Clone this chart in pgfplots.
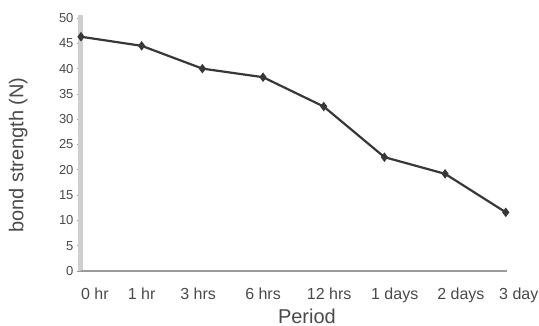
\documentclass[border=0pt]{standalone}
\usepackage{pgfplots}
\pgfplotsset{compat=1.18}
\usepackage{fontspec}
\setmainfont{Liberation Sans}
\definecolor{txt}{HTML}{4A4A4A}
\definecolor{ln}{HTML}{383838}
\definecolor{yax}{HTML}{CFCFCF}
\definecolor{xax}{HTML}{9A9A9A}
\begin{document}
\begin{tikzpicture}
\begin{axis}[
  at={(0pt,0pt)}, anchor=south west,
  scale only axis, width=443pt, height=253pt,
  xmin=0, xmax=7.3, ymin=0, ymax=50,
  clip=false,
  axis x line*=bottom, axis y line*=left,
  x axis line style={draw=none},
  y axis line style={draw=none},
  xtick={0.23,1.0,1.93,3.0,4.09,5.17,6.26,7.28},
  xticklabels={0 hr,1 hr,3 hrs,6 hrs,12 hrs,1 days,2 days,3 days},
  x tick style={draw=none},
  ytick={0,5,...,50},
  y tick style={xax, line width=0.8pt},
  tick align=outside,
  major tick length=4pt,
  /pgf/number format/assume math mode=true,
  yticklabel style={font=\fontsize{13}{13}\selectfont, text=txt, anchor=east, xshift=0pt},
  xticklabel style={font=\fontsize{16}{16}\selectfont, text=txt, anchor=base, yshift=-24pt},
  xlabel={Period},
  ylabel={bond strength (N)},
  xlabel style={font=\fontsize{20}{20}\selectfont, text=txt, at={(rel axis cs:0.51,-0.178)}, anchor=center},
  ylabel style={font=\fontsize{20}{20}\selectfont, text=txt, at={(rel axis cs:-0.142,0.458)}, anchor=center},
]
\draw[yax, line width=5pt] (axis cs:0,0) -- (axis cs:0,50.5);
\draw[xax, line width=1.3pt] (axis cs:0,0) -- (axis cs:7.02,0);
\addplot[ln, line width=2.2pt, mark=diamond*, mark size=3pt, mark options={fill=ln}]
coordinates {(0,46.3) (1,44.5) (2,40.0) (3,38.3) (4,32.5) (5,22.5) (6,19.2) (7,11.6)};
\end{axis}
\pgfresetboundingbox
\path[use as bounding box] (-81pt,-54pt) rectangle (458pt,271pt);
\end{tikzpicture}
\end{document}
